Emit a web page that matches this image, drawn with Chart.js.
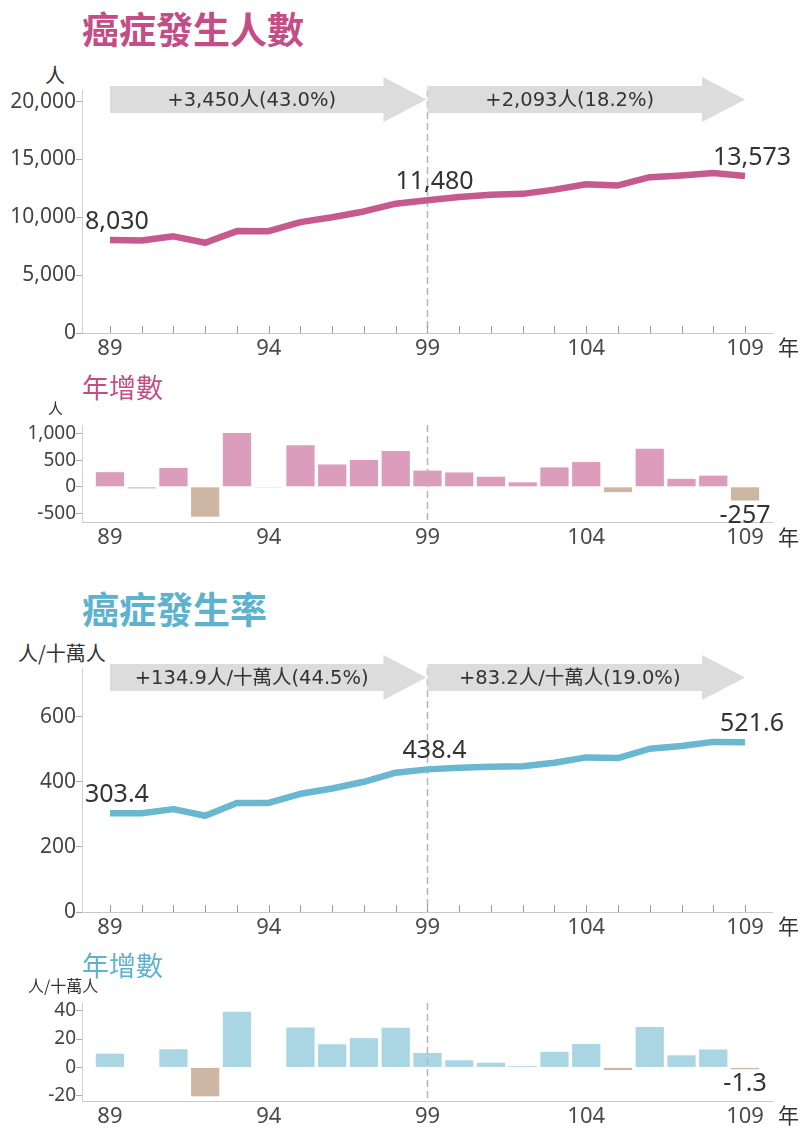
<!DOCTYPE html>
<html><head><meta charset="utf-8">
<script src="https://cdn.jsdelivr.net/npm/chart.js@4.4.1/dist/chart.umd.min.js"></script>
<style>
body{margin:0;background:#fff;}
#wrap{position:relative;width:808px;height:1129px;overflow:hidden;background:#fff;}
.t{position:absolute;white-space:nowrap;line-height:1;font-family:"Noto Sans CJK TC","Noto Sans",sans-serif;color:#333;}
canvas{position:absolute;left:0;}
</style></head><body><div id="wrap">
<div class="t" style="left:82px;top:10px;font-size:37px;font-weight:700;color:#c24d87;">癌症發生人數</div>
<div class="t" style="left:45px;top:65px;font-size:20px;">人</div>
<canvas id="c1" width="808" height="310" style="top:60px"></canvas>
<div class="t" style="left:778px;top:336px;font-size:21px;">年</div>
<div class="t" style="left:82px;top:373px;font-size:27px;color:#c24d87;">年增數</div>
<div class="t" style="left:48px;top:400px;font-size:15px;">人</div>
<canvas id="c2" width="808" height="150" style="top:400px"></canvas>
<div class="t" style="left:778px;top:526px;font-size:21px;">年</div>
<div class="t" style="left:82px;top:590px;font-size:37px;font-weight:700;color:#5db3ce;">癌症發生率</div>
<div class="t" style="left:18px;top:643px;font-size:20px;">人/十萬人</div>
<canvas id="c3" width="808" height="310" style="top:640px"></canvas>
<div class="t" style="left:778px;top:915px;font-size:21px;">年</div>
<div class="t" style="left:82px;top:951px;font-size:27px;color:#5db3ce;">年增數</div>
<div class="t" style="left:28px;top:977px;font-size:16px;">人/十萬人</div>
<canvas id="c4" width="808" height="149" style="top:980px"></canvas>
<div class="t" style="left:778px;top:1104px;font-size:21px;">年</div>
</div>
<script>
// ---- data ----
const years = [89,90,91,92,93,94,95,96,97,98,99,100,101,102,103,104,105,106,107,108,109];
const caseCount = [8030,8000,8355,7795,8805,8800,9580,10000,10505,11175,11480,11750,11940,12025,12390,12855,12755,13470,13620,13830,13573];
const caseChange = [275,-30,355,-560,1010,-5,780,420,505,670,305,270,190,85,365,465,-100,715,150,210,-257];
const caseRate = [303.4,303.4,316.2,295.8,335.1,335.1,363.3,379.6,400.2,428.2,438.4,443.4,446.7,447.7,458.7,475.2,473.3,501.8,510.3,522.9,521.6];
const rateChange = [9.7,0.0,12.8,-20.4,39.3,0.0,28.2,16.3,20.6,28.0,10.2,5.0,3.3,1.0,11.0,16.5,-1.9,28.5,8.5,12.6,-1.3];
const xTickYears = [89,94,99,104,109];
const countTicks = [0,5000,10000,15000,20000];
const countChangeTicks = [-500,0,500,1000];
const rateTicks = [0,200,400,600];
const rateChangeTicks = [-20,0,20,40];
const periods = [[89,99],[99,109]];
const countPeriodLabels = ['+3,450人(43.0%)','+2,093人(18.2%)'];
const ratePeriodLabels = ['+134.9人/十萬人(44.5%)','+83.2人/十萬人(19.0%)'];
const labelYears = [89,99,109];
const barLabelYears = [109];
const dividerYear = 99;

// ---- styles ----
const FONT = '"Noto Sans","Noto Sans CJK TC",sans-serif';
const pink = {line:'#c65a8f', bar:'#dc9dbd', neg:'#cdb6a2'};
const blue = {line:'#6ab8d0', bar:'#aad5e2', neg:'#cdb6a2'};

function makeDecor(cfg){
  return {
    id:'decor',
    beforeDatasetsDraw(chart){ if(!cfg.dashTop) divider(chart); },
    afterDatasetsDraw(chart){
      if(cfg.dashTop) divider(chart);
      const ctx=chart.ctx, xs=chart.scales.x, ys=chart.scales.y, ca=chart.chartArea;
      const data=chart.data.datasets[0].data;
      if(cfg.innerTicks){
        ctx.save(); ctx.strokeStyle='#9a9a9a'; ctx.lineWidth=1; ctx.beginPath();
        years.forEach(yr=>{const px=Math.round(xs.getPixelForValue(yr))+0.5; ctx.moveTo(px,ca.bottom); ctx.lineTo(px,ca.bottom-7);});
        ctx.stroke(); ctx.restore();
      }
      ctx.save(); ctx.fillStyle='#333'; ctx.font='25px '+FONT; ctx.textAlign='center'; ctx.textBaseline='alphabetic';
      (cfg.pointLabels||[]).forEach(yr=>{
        const i=years.indexOf(yr), v=data[i].y;
        const px=xs.getPixelForValue(yr), py=ys.getPixelForValue(v);
        ctx.fillText(cfg.fmt(v), px+7, py-11);
      });
      (cfg.barLabels||[]).forEach(yr=>{
        const i=years.indexOf(yr), v=data[i].y;
        const px=xs.getPixelForValue(yr), py=ys.getPixelForValue(v);
        ctx.fillText(cfg.fmt(v), px, py+22);
      });
      ctx.restore();
    },
    afterDraw(chart){
      if(!cfg.arrows) return;
      const ctx=chart.ctx, xs=chart.scales.x, top=chart.chartArea.top;
      periods.forEach((p,k)=>{
        const x0=xs.getPixelForValue(p[0]), x1=xs.getPixelForValue(p[1])-(k===0?1:0);
        const bt=top-4, bb=top+23, ht=top-13, hb=top+32, hx=x1-43, my=(bt+bb)/2;
        ctx.save(); ctx.fillStyle='#dcdcdc'; ctx.beginPath();
        ctx.moveTo(x0,bt); ctx.lineTo(hx,bt); ctx.lineTo(hx,ht); ctx.lineTo(x1,my);
        ctx.lineTo(hx,hb); ctx.lineTo(hx,bb); ctx.lineTo(x0,bb); ctx.closePath(); ctx.fill();
        ctx.fillStyle='#333'; ctx.font='19.5px "DejaVu Sans","Noto Sans CJK TC",sans-serif';
        ctx.textAlign='center'; ctx.textBaseline='middle';
        ctx.fillText(cfg.arrows[k],(x0+hx)/2+5,my+1);
        ctx.restore();
      });
    }
  };
  function divider(chart){
    const ctx=chart.ctx, ca=chart.chartArea, px=Math.round(chart.scales.x.getPixelForValue(dividerYear))+0.5;
    ctx.save(); ctx.strokeStyle='#b5b5b5'; ctx.lineWidth=1.5; ctx.setLineDash([7,4]);
    ctx.beginPath(); ctx.moveTo(px,ca.top); ctx.lineTo(px,ca.bottom); ctx.stroke(); ctx.restore();
  }
}

function xScale(h){
  return {type:'linear', min:88.12, max:109.85, offset:false,
    afterBuildTicks:s=>{s.ticks=xTickYears.map(v=>({value:v}));},
    afterFit:s=>{s.height=h;},
    grid:{display:false, drawTicks:false, offset:false},
    border:{color:'#c8c8c8', width:1},
    ticks:{font:{family:FONT,size:22}, color:'#4a4a4a', padding:3, maxRotation:0, autoSkip:false, callback:v=>String(v)}};
}
function yScale(min,max,tickVals,size){
  return {type:'linear', min:min, max:max,
    afterBuildTicks:s=>{s.ticks=tickVals.map(v=>({value:v}));},
    afterFit:s=>{s.width=82;},
    grid:{drawOnChartArea:false, drawTicks:true, tickLength:6, color:'#aaaaaa'},
    border:{color:'#d0d0d0', width:1},
    ticks:{font:{family:FONT,size:size}, color:'#444', padding:0, autoSkip:false,
      callback:v=>Number(v).toLocaleString('en-US')}};
}
function pts(vals){ return years.map((y,i)=>({x:y,y:vals[i]})); }

function lineChart(id, vals, tickVals, ymax, col, padTop, xh, arrows, fmt){
  return new Chart(document.getElementById(id),{
    type:'line',
    data:{datasets:[{data:pts(vals), borderColor:col.line, borderWidth:6.5, pointRadius:0, tension:0, borderJoinStyle:'round', borderCapStyle:'butt', clip:false}]},
    options:{responsive:false, animation:false, layout:{padding:{top:padTop,right:36,left:0,bottom:0}},
      plugins:{legend:{display:false}, tooltip:{enabled:false}},
      scales:{x:xScale(xh), y:yScale(0,ymax,tickVals,21)}},
    plugins:[makeDecor({innerTicks:true, pointLabels:labelYears, fmt:fmt, arrows:arrows, dashTop:false})]
  });
}
function barChart(id, vals, tickVals, ymin, ymax, col, padTop, xh, fmt){
  return new Chart(document.getElementById(id),{
    type:'bar',
    data:{datasets:[{data:pts(vals), backgroundColor:vals.map(v=>v<0?col.neg:col.bar), borderWidth:0, categoryPercentage:1, barPercentage:0.89}]},
    options:{responsive:false, animation:false, layout:{padding:{top:padTop,right:36,left:0,bottom:0}},
      plugins:{legend:{display:false}, tooltip:{enabled:false}},
      scales:{x:xScale(xh), y:yScale(ymin,ymax,tickVals,19)}},
    plugins:[makeDecor({barLabels:barLabelYears, fmt:fmt, dashTop:true})]
  });
}
const fmtInt=v=>Math.round(v).toLocaleString('en-US');
const fmt1=v=>v.toFixed(1);
lineChart('c1', caseCount, countTicks, 21000, pink, 30, 37, countPeriodLabels, fmtInt);
barChart('c2', caseChange, countChangeTicks, -660, 1160, pink, 25, 28, fmtInt);
lineChart('c3', caseRate, rateTicks, 750, blue, 28, 38, ratePeriodLabels, fmt1);
barChart('c4', rateChange, rateChangeTicks, -23.7, 45.4, blue, 23, 28, fmt1);
</script></body></html>
